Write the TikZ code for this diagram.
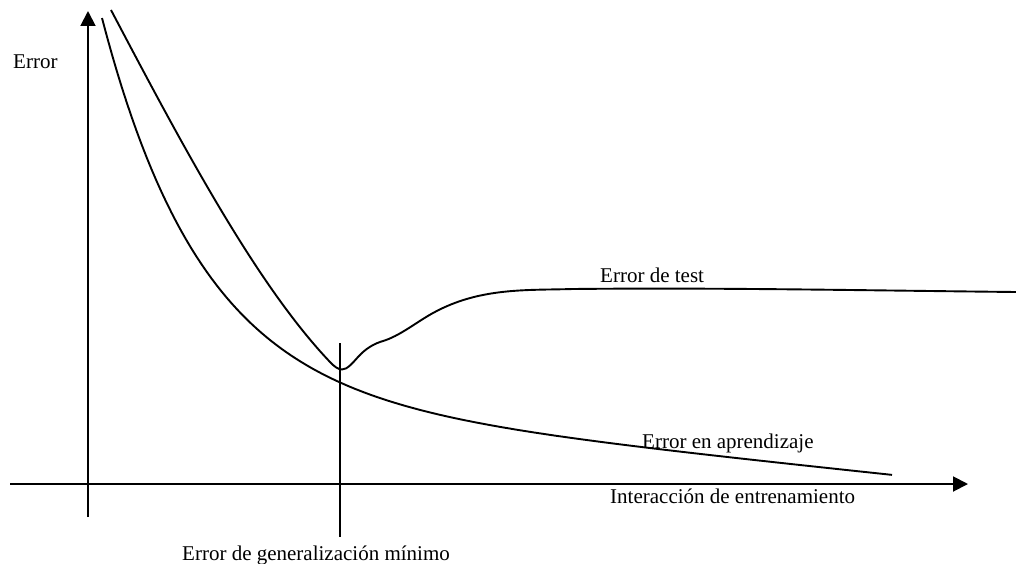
\documentclass[tikz,border=0pt]{standalone}
\usepackage{fontspec}
\setmainfont{Liberation Serif}
\usetikzlibrary{arrows.meta}
\begin{document}
\begin{tikzpicture}[x=1pt,y=-1pt,
  axis/.style={line width=1.9pt,-{Triangle[length=15pt,width=15pt]}},
  curve/.style={line width=1.9pt,line join=round},
  lbl/.style={anchor=base west,inner sep=0pt,font=\fontsize{21}{25}\selectfont}]
\useasboundingbox (0,0) rectangle (1016,564);
\coordinate (ybot) at (88,517);
\coordinate (ytop) at (88,11);
\coordinate (xleft) at (10,484);
\coordinate (xright) at (968,484);
\coordinate (vtop) at (340,343);
\coordinate (vbot) at (340,537);
\draw[axis] (ybot) -- (ytop);
\draw[axis] (xleft) -- (xright);
\draw[line width=1.9pt] (vtop) -- (vbot);
% training error
\draw[curve] plot[domain=102:892,samples=160,variable=\t]
  (\t, {475-0.105*(892-\t)-374*exp(-(\t-102)/100)});
% test error
\draw[curve] (111,10)
  .. controls (184,148.7) and (257,285.3) .. (330,362)
  .. controls (334,366.2) and (338,369.5) .. (342,369.5)
  .. controls (347.3,369.5) and (352.7,362.9) .. (358,357)
  .. controls (366.3,347.8) and (374.7,343.5) .. (383,341)
  .. controls (399.7,336) and (416.3,322.2) .. (433,313)
  .. controls (479.7,287.3) and (526.3,290.4) .. (573,289)
  .. controls (720.7,287.5) and (868.3,290.5) .. (1016,292);
\node[lbl] (ly) at (13,69) {Error};
\node[lbl] (ltest) at (600,282) {Error de test};
\node[lbl] (ltrain) at (642,448) {Error en aprendizaje};
\node[lbl] (lx) at (610,503) {Interacción de entrenamiento};
\node[lbl] (lmin) at (182,560) {Error de generalización mínimo};
\end{tikzpicture}
\end{document}
